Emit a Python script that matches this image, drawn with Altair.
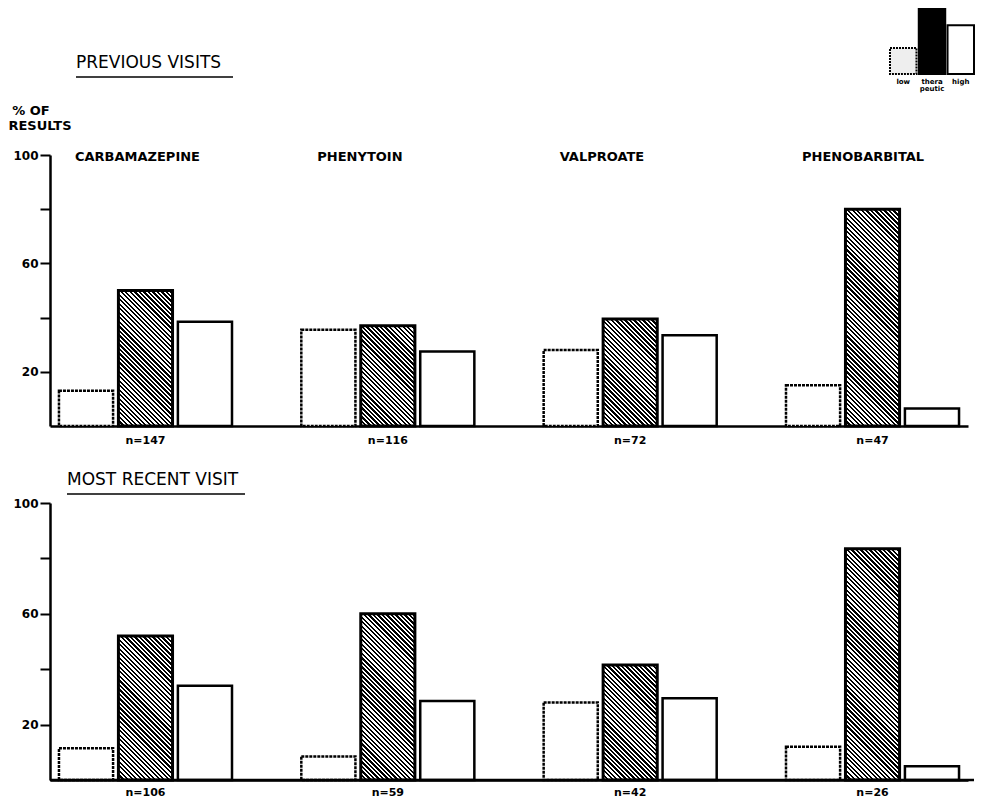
import math
import altair as alt

# ---------------- data ----------------
drugs = ["CARBAMAZEPINE", "PHENYTOIN", "VALPROATE", "PHENOBARBITAL"]
levels = ["low", "therapeutic", "high"]

prev_low = [13, 35.5, 28, 15]
prev_ther = [50, 37, 39.5, 80]
prev_high = [38.5, 27.5, 33.5, 6.5]
prev_n = ["n=147", "n=116", "n=72", "n=47"]

recent_low = [11.5, 8.5, 28, 12]
recent_ther = [52, 60, 41.5, 83.5]
recent_high = [34, 28.5, 29.5, 5]
recent_n = ["n=106", "n=59", "n=42", "n=26"]

section_titles = ["PREVIOUS VISITS", "MOST RECENT VISIT"]
y_title_lines = ["% OF", "RESULTS"]
y_ticks = [20, 40, 60, 80, 100]

legend_cats = ["low", "therapeutic", "high"]
legend_heights = [40, 100, 75]
legend_labels = ["low", "thera\npeutic", "high"]

# ---------------- layout / style ----------------
FONT = "DejaVu Sans"
W = 918
H_TOP = 271
H_BOT = 277
PAD_INNER = 0.286
PAD_OUTER = 0.037
OFF_PAD = 0.09

step = W / (len(drugs) - PAD_INNER + 2 * PAD_OUTER)
group_bw = step * (1 - PAD_INNER)
bar_w = group_bw / (len(levels) - OFF_PAD) * (1 - OFF_PAD)


def hatch(w, h, period=3.2, ink=0.5):
    """Diagonal (\\\\) hatching as a striped linear gradient in bbox units."""
    L = (w + h) / math.sqrt(2)
    s = (w + h) / (w * w + h * h)
    d = period / L
    stops = []
    t = 0.0
    while t < 1 - 1e-9:
        m = min(t + ink * d, 1.0)
        e = min(t + d, 1.0)
        stops += [
            {"offset": round(t, 5), "color": "black"},
            {"offset": round(m, 5), "color": "black"},
            {"offset": round(m, 5), "color": "white"},
            {"offset": round(e, 5), "color": "white"},
        ]
        t += d
    return {"gradient": "linear", "x1": 0, "y1": 1,
            "x2": s * w, "y2": 1 - s * h, "stops": stops}


def x_enc(band_pos=None):
    kw = {}
    if band_pos is not None:
        kw["bandPosition"] = band_pos
    return alt.X(
        "drug:N",
        scale=alt.Scale(domain=drugs, paddingInner=PAD_INNER, paddingOuter=PAD_OUTER),
        axis=alt.Axis(labels=False, ticks=False, title=None, grid=False,
                      domainWidth=2.5, domainColor="black"),
        **kw,
    )


y_axis = alt.Axis(
    values=y_ticks,
    labelExpr="datum.value % 40 == 20 ? datum.label : ''",
    title=None, grid=False,
    domainWidth=2.5, domainColor="black",
    tickColor="black", tickWidth=2, tickSize=10,
    labelFont=FONT, labelFontWeight="bold", labelFontSize=12,
    labelColor="black", labelPadding=2,
)


def panel(low, ther, high, nlabels, height, title, title_x, title_y,
          title_w, n_y, top):
    k = height / 100.0
    recs = []
    for i, d in enumerate(drugs):
        recs.append({"drug": d, "level": "low", "pct": low[i]})
        recs.append({"drug": d, "level": "therapeutic", "pct": ther[i],
                     "grad": hatch(bar_w, ther[i] * k)})
        recs.append({"drug": d, "level": "high", "pct": high[i]})
    data = alt.Data(values=recs)

    base = alt.Chart(data).encode(
        x=x_enc(),
        xOffset=alt.XOffset("level:N", scale=alt.Scale(domain=levels, paddingInner=OFF_PAD, paddingOuter=0)),
        y=alt.Y("pct:Q", scale=alt.Scale(domain=[0, 100], nice=False), axis=y_axis),
    )
    low_l = base.transform_filter("datum.level == 'low'").mark_bar(
        fill="white", stroke="black", strokeWidth=2.5, strokeDash=[3, 1])
    ther_l = base.transform_filter("datum.level == 'therapeutic'").mark_bar(
        stroke="black", strokeWidth=3).encode(fill=alt.Fill("grad:N", scale=None))
    high_l = base.transform_filter("datum.level == 'high'").mark_bar(
        fill="white", stroke="black", strokeWidth=2.5)

    ndata = alt.Data(values=[{"drug": d, "n": n} for d, n in zip(drugs, nlabels)])
    n_l = alt.Chart(ndata).mark_text(
        font=FONT, fontWeight="bold", fontSize=11, baseline="middle", color="black"
    ).encode(x=x_enc(), y=alt.value(n_y), text="n:N")

    tdata = alt.Data(values=[{"t": title}])
    t_l = alt.Chart(tdata).mark_text(
        font=FONT, fontSize=17, align="left", baseline="middle", color="black"
    ).encode(x=alt.value(title_x), y=alt.value(title_y), text="t:N")
    u_l = alt.Chart(tdata).mark_rule(stroke="black", strokeWidth=1.5).encode(
        x=alt.value(title_x), x2=alt.value(title_x + title_w), y=alt.value(title_y + 14))

    layers = [low_l, ther_l, high_l, n_l, t_l, u_l]

    if top:
        name_data = alt.Data(values=[{"drug": d} for d in drugs])
        names = alt.Chart(name_data).mark_text(
            font=FONT, fontWeight="bold", fontSize=13, align="left",
            baseline="middle", dx=16, color="black"
        ).encode(x=x_enc(0), y=alt.value(2), text="drug:N")
        ydata = alt.Data(values=[{"t": y_title_lines[0], "px": -19, "py": -44},
                                 {"t": y_title_lines[1], "px": -10, "py": -29}])
        ytitle = alt.Chart(ydata).mark_text(
            font=FONT, fontWeight="bold", fontSize=13, align="center",
            baseline="middle", color="black"
        ).encode(x=alt.X("px:Q", scale=None), y=alt.Y("py:Q", scale=None), text="t:N")
        layers += [names, ytitle]
    else:
        ext = alt.Chart(tdata).mark_rule(stroke="black", strokeWidth=2.5).encode(
            x=alt.value(0), x2=alt.value(W + 6), y=alt.value(height))
        layers += [ext]

    main = alt.layer(*layers).properties(width=W, height=height)

    if not top:
        return main

    # small pictorial legend (top right)
    ldata = alt.Data(values=[{"cat": c, "h": h, "lab": l}
                             for c, h, l in zip(legend_cats, legend_heights, legend_labels)])
    lx = alt.X("cat:N", scale=alt.Scale(domain=legend_cats, range=[840, 924],
                                        paddingInner=0.08, paddingOuter=0), axis=None)
    ly = alt.Y("h:Q", scale=alt.Scale(domain=[0, 100], range=[-81, -146]), axis=None)
    lbase = alt.Chart(ldata).encode(x=lx, y=ly)
    lb_low = lbase.transform_filter("datum.cat == 'low'").mark_bar(
        fill="#eeeeee", stroke="black", strokeWidth=2, strokeDash=[2, 1])
    lb_ther = lbase.transform_filter("datum.cat == 'therapeutic'").mark_bar(
        fill="black", stroke="black", strokeWidth=2)
    lb_high = lbase.transform_filter("datum.cat == 'high'").mark_bar(
        fill="white", stroke="black", strokeWidth=2)
    l_txt = alt.Chart(ldata).mark_text(
        font=FONT, fontWeight="bold", fontSize=7, baseline="top",
        lineBreak="\n", lineHeight=7, color="black"
    ).encode(x=lx, y=alt.value(-77), text="lab:N")
    legend = alt.layer(lb_low, lb_ther, lb_high, l_txt)

    return alt.layer(main, legend).resolve_scale(x="independent", y="independent")


top_panel = panel(prev_low, prev_ther, prev_high, prev_n, H_TOP,
                  section_titles[0], 26, -92, 157, 286, True)
bottom_panel = panel(recent_low, recent_ther, recent_high, recent_n, H_BOT,
                     section_titles[1], 17, -23, 178, 290, False)

chart = alt.vconcat(top_panel, bottom_panel, spacing=25).properties(
    padding=0
).configure_view(strokeWidth=0)

chart.save("out.html", embed_options={"renderer": "svg", "actions": False})
